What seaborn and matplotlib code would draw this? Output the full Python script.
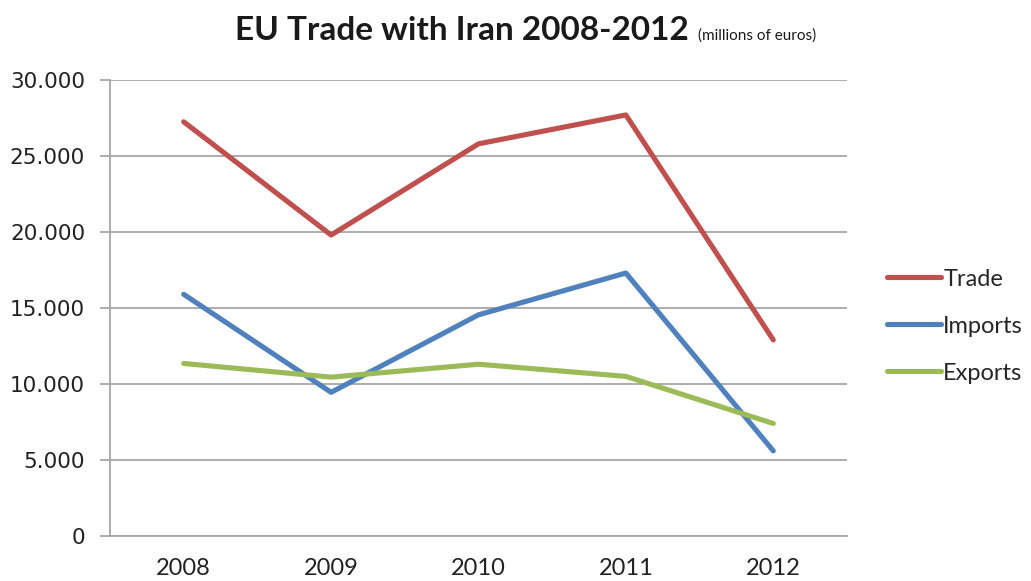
import matplotlib
matplotlib.use("Agg")
import matplotlib.pyplot as plt
import pandas as pd
import seaborn as sns

years = ["2008", "2009", "2010", "2011", "2012"]
trade = [27250, 19800, 25800, 27700, 12900]
imports = [15900, 9450, 14550, 17300, 5600]
exports = [11350, 10450, 11300, 10500, 7400]
yticks = [0, 5000, 10000, 15000, 20000, 25000, 30000]

df = pd.DataFrame({"year": years * 3,
                   "value": trade + imports + exports,
                   "series": ["Trade"] * 5 + ["Imports"] * 5 + ["Exports"] * 5})

sns.set_style("white")
plt.rcParams["font.family"] = ["Lato", "DejaVu Sans"]

fig = plt.figure(figsize=(10.31, 5.81), dpi=100)
ax = fig.add_axes([0.1067, 0.0775, 0.7148, 0.7848])

pal = {"Trade": "#C0504D", "Imports": "#4F81BD", "Exports": "#9BBB59"}
sns.lineplot(data=df, x="year", y="value", hue="series", palette=pal,
             linewidth=3.7, ax=ax, sort=False)

ax.set_xlim(-0.5, 4.5)
ax.set_ylim(0, 30000)
ax.set_yticks(yticks)
ax.set_yticklabels([f"{v:,}".replace(",", ".") for v in yticks])
ax.grid(axis="y", color="#a6a6a6", linewidth=1.3)
ax.set_axisbelow(True)
ax.set_xlabel("")
ax.set_ylabel("")

for s in ["top", "right"]:
    ax.spines[s].set_visible(False)
for s in ["left", "bottom"]:
    ax.spines[s].set_color("#a6a6a6")
    ax.spines[s].set_linewidth(1.3)

ax.set_xticks(range(5))
ax.set_xticklabels(years, fontsize=17, color="#222222")
ax.tick_params(axis="x", length=0, pad=16)
ax.set_xticks([i - 0.5 for i in range(6)], minor=True)
ax.tick_params(axis="x", which="minor", length=7, color="#a6a6a6", width=1.3)
ax.tick_params(axis="y", length=7, color="#a6a6a6", width=1.3, left=True, pad=11,
               labelsize=15.5, labelcolor="#222222", labelfontfamily="DejaVu Sans")

ax.legend(loc="center left", bbox_to_anchor=(1.025, 0.46), frameon=False,
          fontsize=17, handlelength=2.3, handletextpad=0.1, labelspacing=1.1)

t1 = fig.text(235 / 1031, 1 - 40 / 581, "EU Trade with Iran 2008-2012",
              fontsize=24, fontweight="bold", color="#1a1a1a", ha="left", va="baseline")
fig.canvas.draw()
bb = t1.get_window_extent()
fig.text((bb.x1 + 9) / 1031, 1 - 40 / 581, "(millions of euros)",
         fontsize=11, color="#1a1a1a", ha="left", va="baseline")

fig.savefig("out.png", dpi=100)
